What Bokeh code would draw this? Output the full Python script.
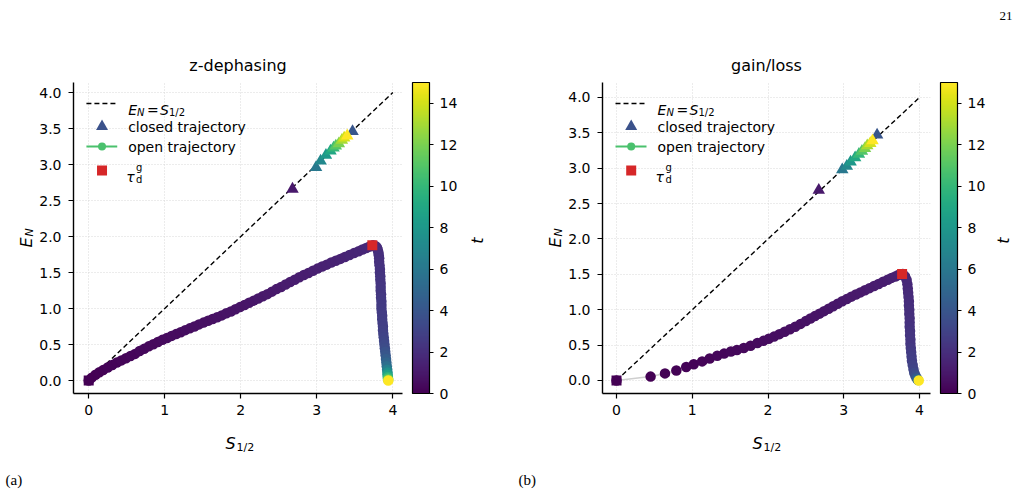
import math
from bokeh.plotting import figure
from bokeh.layouts import row, column
from bokeh.models import (Range1d, ColumnDataSource, LinearColorMapper, ColorBar,
                          FixedTicker, Label, NumeralTickFormatter, Title)
from bokeh.core.properties import value
from bokeh.palettes import Viridis256
from bokeh.transform import linear_cmap
from bokeh.embed import file_html
from bokeh.resources import INLINE

T_LOW, T_HIGH = 0, 15
FONT = "DejaVu Sans"
SERIF = "Liberation Serif"

titles = ["z-dephasing", "gain/loss"]
panel_tags = ["(a)", "(b)"]
page_number = "21"
x_ticks = [0, 1, 2, 3, 4]
y_ticks = [0.0, 0.5, 1.0, 1.5, 2.0, 2.5, 3.0, 3.5, 4.0]
cbar_ticks = [0, 2, 4, 6, 8, 10, 12, 14]
diag_S = [0, 4]
diag_E = [0, 4]

# ---------------- panel (a): z-dephasing ----------------
a_open_S = [0.00, 0.04, 0.09, 0.14, 0.19, 0.25, 0.31, 0.37, 0.43, 0.49,
            0.55, 0.61, 0.67, 0.73, 0.79, 0.85, 0.91, 0.97, 1.03, 1.09,
            1.15, 1.21, 1.27, 1.33, 1.39, 1.45, 1.51, 1.57, 1.63, 1.69,
            1.75, 1.81, 1.87, 1.93, 1.99, 2.05, 2.11, 2.17, 2.23, 2.29,
            2.35, 2.41, 2.47, 2.53, 2.59, 2.65, 2.71, 2.77, 2.83, 2.89,
            2.95, 3.01, 3.07, 3.13, 3.19, 3.25, 3.31, 3.37, 3.43, 3.49,
            3.55, 3.60, 3.65, 3.69, 3.72, 3.74,
            3.77, 3.79, 3.80, 3.81, 3.815, 3.82, 3.82, 3.825, 3.83, 3.83,
            3.835, 3.835, 3.84, 3.84, 3.84, 3.845, 3.845, 3.85, 3.85, 3.85,
            3.855, 3.86, 3.86, 3.865, 3.87, 3.87, 3.875,
            3.88, 3.885, 3.89, 3.895, 3.90, 3.905, 3.91, 3.915, 3.92, 3.925,
            3.93, 3.93, 3.935, 3.935, 3.94, 3.94]
a_open_E = [0.00, 0.04, 0.08, 0.115, 0.145, 0.18, 0.215, 0.25, 0.28, 0.31,
            0.34, 0.37, 0.41, 0.44, 0.475, 0.505, 0.535, 0.565, 0.59, 0.62,
            0.645, 0.67, 0.70, 0.725, 0.75, 0.78, 0.805, 0.83, 0.855, 0.88,
            0.905, 0.935, 0.96, 0.99, 1.02, 1.05, 1.08, 1.11, 1.14, 1.17,
            1.20, 1.235, 1.27, 1.30, 1.335, 1.37, 1.40, 1.435, 1.465, 1.495,
            1.525, 1.555, 1.585, 1.61, 1.64, 1.665, 1.69, 1.715, 1.745, 1.77,
            1.795, 1.82, 1.84, 1.86, 1.87, 1.88,
            1.87, 1.85, 1.82, 1.78, 1.74, 1.70, 1.65, 1.60, 1.55, 1.50,
            1.45, 1.40, 1.35, 1.30, 1.25, 1.20, 1.15, 1.10, 1.05, 1.00,
            0.95, 0.90, 0.85, 0.80, 0.75, 0.70, 0.65,
            0.60, 0.55, 0.50, 0.45, 0.40, 0.35, 0.30, 0.25, 0.20, 0.15,
            0.11, 0.08, 0.05, 0.03, 0.01, 0.00]
a_open_t = [0.00, 0.02, 0.05, 0.07, 0.10, 0.12, 0.15, 0.17, 0.20, 0.22,
            0.25, 0.27, 0.30, 0.32, 0.35, 0.37, 0.40, 0.42, 0.45, 0.47,
            0.50, 0.52, 0.55, 0.57, 0.60, 0.62, 0.65, 0.67, 0.70, 0.72,
            0.75, 0.77, 0.80, 0.82, 0.85, 0.87, 0.90, 0.92, 0.95, 0.97,
            1.00, 1.03, 1.06, 1.09, 1.12, 1.15, 1.18, 1.21, 1.24, 1.27,
            1.30, 1.33, 1.36, 1.39, 1.42, 1.45, 1.48, 1.51, 1.54, 1.57,
            1.60, 1.63, 1.66, 1.70, 1.75, 1.80,
            1.85, 1.89, 1.93, 1.97, 2.01, 2.05, 2.09, 2.13, 2.17, 2.21,
            2.25, 2.29, 2.33, 2.37, 2.41, 2.45, 2.49, 2.53, 2.57, 2.61,
            2.65, 2.69, 2.73, 2.77, 2.81, 2.86, 2.92,
            3.00, 3.15, 3.30, 3.50, 3.75, 4.00, 4.40, 4.90, 5.50, 6.50,
            7.50, 8.50, 9.50, 10.5, 12.0, 15.0]
a_closed_S = [2.68, 3.47, 2.99, 3.05, 3.12, 3.18, 3.22, 3.25, 3.29, 3.33, 3.36, 3.40]
a_closed_E = [2.66, 3.46, 2.96, 3.05, 3.13, 3.19, 3.23, 3.26, 3.29, 3.34, 3.37, 3.40]
a_closed_t = [1, 4, 6, 7, 8, 9, 10, 11, 12, 13, 14, 15]
a_tau_S = [3.73]
a_tau_E = [1.88]
a_start_S = [0.0]
a_start_E = [0.0]
a_start_t = [0.0]

# ---------------- panel (b): gain/loss ----------------
b_open_S = [0.00, 0.45, 0.64, 0.79, 0.92, 1.02, 1.13, 1.23, 1.33, 1.42, 1.51,
            1.59, 1.68, 1.77, 1.86, 1.94, 2.01, 2.08, 2.15, 2.22, 2.29,
            2.36, 2.43, 2.50, 2.56, 2.62, 2.68, 2.74, 2.80, 2.86, 2.92,
            2.98, 3.04, 3.10, 3.16, 3.22, 3.28, 3.34, 3.40, 3.46, 3.52,
            3.58, 3.63, 3.68, 3.72, 3.75, 3.78,
            3.81, 3.83, 3.84, 3.845, 3.85, 3.855, 3.86, 3.86, 3.865, 3.865,
            3.87, 3.87, 3.87, 3.875, 3.875, 3.88, 3.88, 3.885, 3.89, 3.895,
            3.90, 3.91, 3.92, 3.93, 3.945, 3.96, 3.97, 3.98, 3.99]
b_open_E = [0.00, 0.055, 0.10, 0.14, 0.19, 0.23, 0.27, 0.31, 0.35, 0.38, 0.41,
            0.43, 0.46, 0.49, 0.53, 0.56, 0.59, 0.62, 0.655, 0.69, 0.725,
            0.76, 0.80, 0.84, 0.875, 0.91, 0.945, 0.98, 1.015, 1.05, 1.085,
            1.12, 1.15, 1.185, 1.215, 1.245, 1.275, 1.305, 1.335, 1.365, 1.395,
            1.425, 1.45, 1.47, 1.49, 1.50, 1.505,
            1.47, 1.42, 1.36, 1.30, 1.24, 1.18, 1.12, 1.06, 1.00, 0.94,
            0.88, 0.82, 0.76, 0.70, 0.64, 0.58, 0.52, 0.46, 0.40, 0.34,
            0.28, 0.22, 0.16, 0.11, 0.07, 0.04, 0.02, 0.008, 0.00]
b_open_t = [0.00, 0.05, 0.08, 0.11, 0.14, 0.17, 0.20, 0.23, 0.26, 0.29, 0.32,
            0.35, 0.38, 0.41, 0.44, 0.47, 0.50, 0.53, 0.56, 0.59, 0.62,
            0.65, 0.68, 0.71, 0.74, 0.77, 0.80, 0.83, 0.86, 0.89, 0.92,
            0.95, 0.98, 1.01, 1.04, 1.07, 1.10, 1.13, 1.16, 1.19, 1.22,
            1.25, 1.30, 1.35, 1.40, 1.45, 1.55,
            1.60, 1.65, 1.70, 1.75, 1.80, 1.85, 1.90, 1.95, 2.00, 2.05,
            2.10, 2.15, 2.20, 2.25, 2.30, 2.35, 2.40, 2.50, 2.60, 2.70,
            2.80, 2.95, 3.10, 3.30, 3.60, 4.00, 4.60, 5.50, 15.0]
b_closed_S = [2.67, 3.44, 2.98, 3.04, 3.09, 3.15, 3.20, 3.24, 3.28, 3.31, 3.35, 3.38]
b_closed_E = [2.69, 3.47, 2.98, 3.03, 3.09, 3.15, 3.20, 3.24, 3.28, 3.32, 3.35, 3.39]
b_closed_t = [1, 4, 6, 7, 8, 9, 10, 11, 12, 13, 14, 15]
b_tau_S = [3.77]
b_tau_E = [1.505]
b_start_S = [0.0]
b_start_E = [0.0]
b_start_t = [0.0]

# ---------------- layout (page pixels) ----------------
ROW0_H = 25                 # strip with the page number
ROW1_Y0, ROW1_Y1 = 25, 430  # panels
ROW2_H = 492 - ROW1_Y1      # x-axis labels and panel tags
TOP, BOTTOM = 82, 393       # plot frame, page pixels
HP = math.pi / 2

mapper = LinearColorMapper(palette=Viridis256, low=T_LOW, high=T_HIGH)


def text_fig(width, height, y_top, y_bottom, border_top, border_bottom, items):
    """Bare figure; data x = local pixel, data y = -(page pixel)."""
    f = figure(width=width, height=height, output_backend="svg", toolbar_location=None,
               x_range=Range1d(0, width), y_range=Range1d(-y_bottom, -y_top),
               x_axis_location=None, y_axis_location=None,
               min_border_left=0, min_border_right=0,
               min_border_top=border_top, min_border_bottom=border_bottom)
    f.outline_line_color = None
    f.grid.visible = False
    f.background_fill_color = "white"
    f.border_fill_color = "white"
    for (x, y, txt, size, italic, angle, align, baseline, font) in items:
        f.text(x=[x], y=[-y], text=[txt], angle=angle, text_font=value(font),
               text_font_size=value(f"{size}px"),
               text_font_style="italic" if italic else "normal",
               text_color="black", text_align=align, text_baseline=baseline)
    return f


def make_panel(idx, x_off, width, fx0, fx1, xr, yr, open_S, open_E, open_t,
               closed_S, closed_E, closed_t, tau_S, tau_E, start_S, start_E, start_t):
    p = figure(width=width, height=ROW1_Y1 - ROW1_Y0, output_backend="svg",
               toolbar_location=None, x_range=Range1d(*xr), y_range=Range1d(*yr),
               min_border_left=fx0 - x_off, min_border_right=x_off + width - fx1,
               min_border_top=TOP - ROW1_Y0, min_border_bottom=ROW1_Y1 - BOTTOM, title=None)
    p.outline_line_color = None
    p.background_fill_color = "white"
    p.border_fill_color = "white"
    p.add_layout(Title(text=titles[idx], align="center", text_font=FONT,
                       text_font_size="16px", text_font_style="normal",
                       text_color="black", standoff=15), "above")

    def pd(px, py):
        x = xr[0] + (px - fx0) / (fx1 - fx0) * (xr[1] - xr[0])
        y = yr[1] - (py - TOP) / (BOTTOM - TOP) * (yr[1] - yr[0])
        return x, y

    for ax in (p.xaxis[0], p.yaxis[0]):
        ax.axis_line_color = "black"
        ax.axis_line_width = 1.4
        ax.major_tick_line_color = "black"
        ax.major_tick_line_width = 1.2
        ax.major_tick_in = 0
        ax.major_tick_out = 5
        ax.minor_tick_line_color = None
        ax.major_label_text_font = FONT
        ax.major_label_text_font_size = "14px"
        ax.major_label_text_color = "black"
    p.xaxis.major_label_standoff = 6
    p.yaxis.major_label_standoff = 7
    p.xaxis.ticker = FixedTicker(ticks=x_ticks)
    p.yaxis.ticker = FixedTicker(ticks=y_ticks)
    p.yaxis.formatter = NumeralTickFormatter(format="0.0")
    p.xgrid.ticker = FixedTicker(ticks=x_ticks)
    p.ygrid.ticker = FixedTicker(ticks=y_ticks)
    for g in (p.xgrid[0], p.ygrid[0]):
        g.grid_line_color = "#d9d9d9"
        g.grid_line_dash = "1 2"
        g.grid_line_width = 1

    cmap = linear_cmap("t", Viridis256, T_LOW, T_HIGH)
    p.line(diag_S, diag_E, line_color="black", line_width=1.4, line_dash="5 3")
    src = ColumnDataSource(dict(S=open_S, E=open_E, t=open_t))
    p.line("S", "E", source=src, line_color="#cfcfcf", line_width=1.5)
    p.scatter("S", "E", source=src, size=10.5, marker="circle", line_color=None, fill_color=cmap)
    csrc = ColumnDataSource(dict(S=closed_S, E=closed_E, t=closed_t))
    p.scatter("S", "E", source=csrc, size=12.5, marker="triangle", line_color=None, fill_color=cmap)
    ssrc = ColumnDataSource(dict(S=start_S, E=start_E, t=start_t))
    p.scatter("S", "E", source=ssrc, size=10, marker="square", line_color=None, fill_color=cmap)
    p.scatter(tau_S, tau_E, size=10, marker="square", line_color=None, fill_color="#d62728")

    # legend drawn by hand (sub/superscripts in the labels)
    dx = fx0 - 73
    lx0, lx1, lxc = 86 + dx, 117 + dx, 101.7 + dx
    a0, a1 = pd(lx0, 103), pd(lx1, 103)
    p.line([a0[0], a1[0]], [a0[1], a1[1]], line_color="black", line_width=1.4, line_dash="5 3")
    c = pd(lxc, 126)
    p.scatter([c[0]], [c[1]], marker="triangle", size=12, fill_color="#3b528b", line_color=None)
    a0, a1 = pd(lx0, 146), pd(lx1, 146)
    p.line([a0[0], a1[0]], [a0[1], a1[1]], line_color="#4ac16d", line_width=2)
    c = pd(lxc, 146)
    p.scatter([c[0]], [c[1]], marker="circle", size=8, fill_color="#4ac16d", line_color=None)
    c = pd(lxc, 170)
    p.scatter([c[0]], [c[1]], marker="square", size=10, fill_color="#d62728", line_color=None)

    def lab(px, py, text, size, italic=False, baseline="alphabetic"):
        x, y = pd(px, py)
        p.add_layout(Label(x=x, y=y, text=text, text_font=FONT, text_font_size=f"{size}px",
                           text_font_style="italic" if italic else "normal",
                           text_color="black", text_baseline=baseline, text_align="left"))

    tx = 128 + dx
    lab(tx, 109, "E", 14, True)
    lab(tx + 9, 112, "N", 10, True)
    lab(tx + 19, 109, "=", 14)
    lab(tx + 32, 109, "S", 14, True)
    lab(tx + 41, 112, "1/2", 10)
    lab(tx, 126, "closed trajectory", 14, baseline="middle")
    lab(tx, 146, "open trajectory", 14, baseline="middle")
    lab(tx - 2, 176, "τ", 14, True)
    lab(tx + 8, 167, "g", 10)
    lab(tx + 8, 179, "d", 10)

    cb = ColorBar(color_mapper=mapper, ticker=FixedTicker(ticks=cbar_ticks), width=17,
                  height=BOTTOM - TOP, margin=0, padding=0, location=(10, 0),
                  bar_line_color="black", bar_line_width=1.2,
                  major_tick_in=0, major_tick_out=4, major_tick_line_color="black",
                  major_label_text_font=FONT, major_label_text_font_size="14px",
                  major_label_text_color="black", label_standoff=6,
                  background_fill_color=None, border_line_color=None)
    p.add_layout(cb, "right")
    return p


# widths: yA 36 | pA 424 | tA 53 || yB 52 | pB 425 | tB 36  = 1026
pA = make_panel(0, 36, 424, 73, 404, (-0.2, 4.127), (-0.18, 4.14),
                a_open_S, a_open_E, a_open_t, a_closed_S, a_closed_E, a_closed_t,
                a_tau_S, a_tau_E, a_start_S, a_start_E, a_start_t)
pB = make_panel(1, 565, 425, 602, 930, (-0.185, 4.145), (-0.184, 4.212),
                b_open_S, b_open_E, b_open_t, b_closed_S, b_closed_E, b_closed_t,
                b_tau_S, b_tau_E, b_start_S, b_start_E, b_start_t)

R1H = ROW1_Y1 - ROW1_Y0
BT, BB = TOP - ROW1_Y0, ROW1_Y1 - BOTTOM
# y-axis labels (E_N), rotated
yA = text_fig(36, R1H, TOP, BOTTOM, BT, BB,
              [(26, 247, "E", 16, True, HP, "left", "alphabetic", FONT),
               (29, 236, "N", 11, True, HP, "left", "alphabetic", FONT)])
yB = text_fig(52, R1H, TOP, BOTTOM, BT, BB,
              [(42, 247, "E", 16, True, HP, "left", "alphabetic", FONT),
               (45, 236, "N", 11, True, HP, "left", "alphabetic", FONT)])
# colour-bar labels (t)
tA = text_fig(53, R1H, TOP, BOTTOM, BT, BB,
              [(17, 240, "t", 16, True, HP, "center", "middle", FONT)])
tB = text_fig(36, R1H, TOP, BOTTOM, BT, BB,
              [(13, 240, "t", 16, True, HP, "center", "middle", FONT)])
# page number strip
top_strip = text_fig(1026, ROW0_H, 0, ROW0_H, 0, 0,
                     [(999, 15, page_number, 13, False, 0.0, "left", "alphabetic", SERIF)])
# x-axis labels (S_1/2) and panel tags
xA = text_fig(513, ROW2_H, ROW1_Y1, 492, 0, 0,
              [(225, 443, "S", 16, True, 0.0, "left", "alphabetic", FONT),
               (236, 447, "1/2", 11, False, 0.0, "left", "alphabetic", FONT),
               (5, 479, panel_tags[0], 15, False, 0.0, "left", "alphabetic", SERIF)])
xB = text_fig(513, ROW2_H, ROW1_Y1, 492, 0, 0,
              [(239, 443, "S", 16, True, 0.0, "left", "alphabetic", FONT),
               (250, 447, "1/2", 11, False, 0.0, "left", "alphabetic", FONT),
               (5, 479, panel_tags[1], 15, False, 0.0, "left", "alphabetic", SERIF)])

layout = column(top_strip, row(yA, pA, tA, yB, pB, tB), row(xA, xB))
open("out.html", "w").write(file_html(layout, INLINE))
